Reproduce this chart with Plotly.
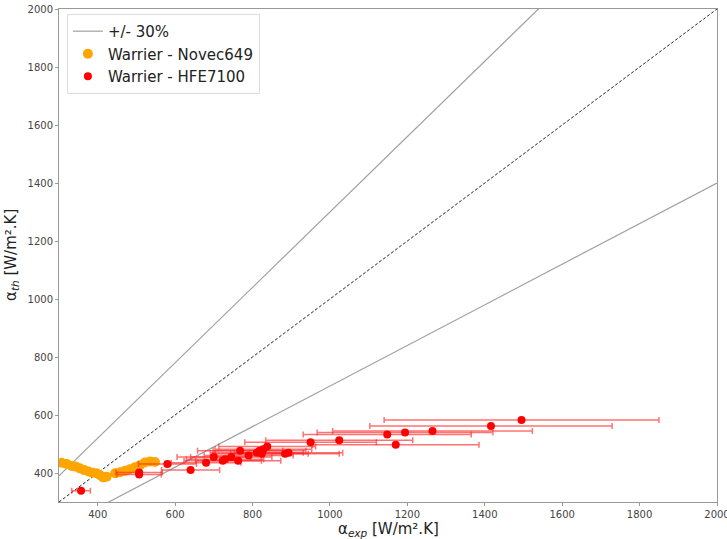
import plotly.graph_objects as go

# Novec649 (orange)
novec_x = [307, 320, 333, 343, 354, 365, 376, 386, 397, 406, 414, 423, 445, 458, 471, 483, 496, 509, 522, 535, 548]
novec_y = [435, 431, 424, 422, 416, 410, 405, 401, 399, 392, 385, 387, 399, 403, 408, 413, 420, 427, 436, 440, 438]
novec_err = [8] * len(novec_x)

# HFE7100 (red)
hfe_x = [357, 507, 507, 580, 640, 680, 700, 723, 729, 745, 763, 768, 790, 811, 818, 824, 828, 838, 884, 893, 950, 1024, 1148, 1170, 1194, 1265, 1416, 1495]
hfe_y = [339, 395, 402, 431, 410, 435, 455, 442, 447, 455, 442, 477, 460, 470, 477, 466, 482, 491, 466, 470, 506, 513, 533, 497, 540, 545, 562, 583]
hfe_err = [24, 57, 60, 75, 75, 90, 95, 100, 100, 105, 110, 110, 115, 120, 120, 120, 125, 125, 140, 140, 170, 190, 217, 215, 227, 258, 313, 355]

ticks = [400, 600, 800, 1000, 1200, 1400, 1600, 1800, 2000]
ref_x = [300, 2000]

fig = go.Figure()

fig.add_trace(go.Scatter(x=ref_x, y=[v * 1.3 for v in ref_x], mode="lines",
                         line=dict(color="#a0a0a0", width=1.2), name="+/- 30%"))
fig.add_trace(go.Scatter(x=ref_x, y=[v * 0.7 for v in ref_x], mode="lines",
                         line=dict(color="#a0a0a0", width=1.2), showlegend=False))
fig.add_trace(go.Scatter(x=ref_x, y=ref_x, mode="lines",
                         line=dict(color="#222222", width=1, dash="3px,2px"), showlegend=False))

fig.add_trace(go.Scatter(x=novec_x, y=novec_y, mode="markers", name="Warrier - Novec649",
                         marker=dict(color="orange", size=10),
                         error_x=dict(type="data", array=novec_err, color="rgba(255,190,60,0.8)",
                                      thickness=1.2, width=2)))
fig.add_trace(go.Scatter(x=hfe_x, y=hfe_y, mode="markers", name="Warrier - HFE7100",
                         marker=dict(color="red", size=8),
                         error_x=dict(type="data", array=hfe_err, color="rgba(255,40,40,0.65)",
                                      thickness=1.5, width=3)))

axis_common = dict(showgrid=False, zeroline=False, showline=True, mirror=True,
                   linecolor="#999999", linewidth=1, ticks="outside", ticklen=3,
                   tickcolor="#999999", automargin=False, ticklabeloverflow="allow",
                   tickfont=dict(size=10, color="#444444", family="DejaVu Sans"))

fig.update_xaxes(range=[300, 2000.01], tickvals=ticks, **axis_common)
fig.update_yaxes(range=[300, 2000.01], tickvals=ticks, **axis_common)

title_font = dict(size=15, color="#222222", family="DejaVu Sans")
fig.update_layout(
    width=727, height=539,
    margin=dict(l=59, r=10, t=9, b=37),
    plot_bgcolor="white", paper_bgcolor="white",
    font=dict(family="DejaVu Sans"),
    legend=dict(x=0.012, y=0.99, xanchor="left", yanchor="top",
                bgcolor="rgba(255,255,255,0.9)", bordercolor="#dddddd", borderwidth=1,
                font=dict(size=15, color="#222222"), itemwidth=30, tracegroupgap=0),
    annotations=[
        dict(text="α<sub><i>exp</i></sub> [W/m².K]", xref="paper", yref="paper",
             x=0.5, y=0, yshift=-16, xanchor="center", yanchor="top",
             showarrow=False, font=title_font),
        dict(text="α<sub><i>th</i></sub> [W/m².K]", xref="paper", yref="paper",
             x=0, y=0.5, xshift=-36, xanchor="right", yanchor="middle", textangle=-90,
             showarrow=False, font=title_font),
    ],
)

fig.write_html("out.html", config={"displayModeBar": False},
               post_script="document.body.style.margin='0';document.body.style.overflow='hidden';")
